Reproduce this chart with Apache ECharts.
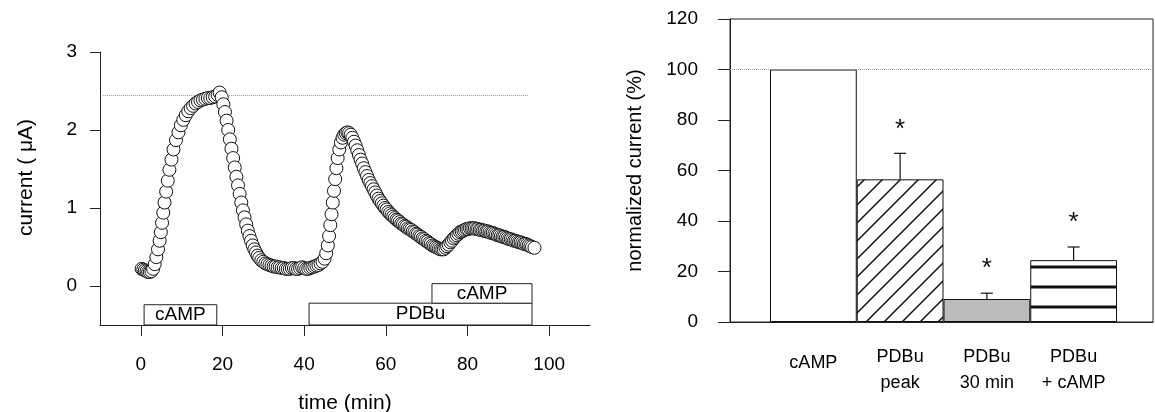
<!DOCTYPE html>
<html><head><meta charset="utf-8">
<script src="https://cdn.jsdelivr.net/npm/echarts@6/dist/echarts.min.js"></script>
<style>html,body{margin:0;padding:0;background:#fff}#c{width:1155px;height:412px}</style>
</head><body><div id="c"></div>
<script>
// ---------- Left panel: current trace ----------
const timeMin = [
  0.2, 0.6, 1.0, 1.4, 1.8, 2.2, 2.6, 3.0,
  3.4, 3.8, 4.2, 4.6, 4.9, 5.2, 5.5, 5.8, 6.2, 6.6, 7.0, 7.5, 8.0, 8.6, 9.2, 9.8, 10.4, 11.0, 11.6, 12.2, 12.8, 13.4, 14.0, 14.6, 15.2, 15.8, 16.4, 17.0, 17.6, 18.2, 18.8,
  19.3, 19.8, 20.2, 20.6, 21.0, 21.4, 21.8, 22.2, 22.6, 23.0, 23.4, 23.8, 24.2, 24.6, 25.0, 25.4, 25.8, 26.2, 26.6, 27.0, 27.4, 27.8, 28.2, 28.6, 29.0,
  29.5, 30.0, 30.5, 31.0, 31.5, 32.0, 32.5, 33.0, 33.5, 34.0, 34.5, 35.0, 35.5, 36.0, 36.5, 37.0, 37.5, 38.0, 38.5, 39.0, 39.5, 40.0, 40.5, 41.0, 41.5, 42.0, 42.5, 43.0, 43.5, 44.0,
  44.5, 45.0, 45.4, 45.8, 46.1, 46.4, 46.7, 47.0, 47.3, 47.6, 47.9, 48.2, 48.6, 49.0, 49.4, 49.8, 50.2, 50.6, 51.0,
  51.4, 51.8, 52.2, 52.6, 53.0, 53.4, 53.8, 54.2, 54.6, 55.0, 55.4, 55.8, 56.2, 56.6, 57.0, 57.4, 57.8, 58.2, 58.6, 59.0,
  59.4, 59.8, 60.2, 60.6, 61.0, 61.4, 61.8, 62.2, 62.6, 63.0, 63.4, 63.8, 64.2, 64.6, 65.0, 65.4, 65.8, 66.2, 66.6, 67.0,
  67.4, 67.8, 68.2, 68.6, 69.0, 69.4, 69.8, 70.2, 70.6, 71.0, 71.4, 71.8, 72.2, 72.6, 73.0, 73.4, 73.8,
  74.2, 74.6, 75.0, 75.4, 75.8, 76.2, 76.6, 77.0, 77.4, 77.8, 78.2, 78.6, 79.0, 79.4, 79.8, 80.2, 80.6, 81.0, 81.4, 81.8,
  82.2, 82.6, 83.0, 83.4, 83.8, 84.2, 84.6, 85.0, 85.4, 85.8, 86.2, 86.6, 87.0, 87.4, 87.8, 88.2, 88.6, 89.0, 89.4, 89.8,
  90.2, 90.6, 91.0, 91.4, 91.8, 92.2, 92.6, 93.0, 93.4, 93.8, 94.2, 94.6, 95.0, 95.4, 95.8, 96.4
];
const currentMicroA = [
  0.22, 0.21, 0.20, 0.19, 0.18, 0.18, 0.19, 0.22,
  0.28, 0.37, 0.47, 0.58, 0.69, 0.81, 0.94, 1.07, 1.21, 1.35, 1.49, 1.62, 1.75, 1.87, 1.97, 2.06, 2.13, 2.19, 2.24, 2.28, 2.31, 2.34, 2.36, 2.38, 2.39, 2.40, 2.41, 2.41, 2.42, 2.43, 2.45,
  2.48, 2.42, 2.33, 2.23, 2.12, 2.00, 1.88, 1.76, 1.64, 1.52, 1.40, 1.29, 1.18, 1.07, 0.97, 0.88, 0.79, 0.71, 0.64, 0.58, 0.52, 0.47, 0.43, 0.39, 0.36,
  0.33, 0.31, 0.29, 0.28, 0.27, 0.26, 0.25, 0.25, 0.24, 0.24, 0.23, 0.23, 0.22, 0.22, 0.22, 0.23, 0.23, 0.22, 0.22, 0.23, 0.24, 0.23, 0.22, 0.22, 0.23, 0.24, 0.25, 0.26, 0.27, 0.29,
  0.31, 0.35, 0.42, 0.52, 0.64, 0.78, 0.92, 1.07, 1.22, 1.37, 1.51, 1.64, 1.75, 1.84, 1.90, 1.94, 1.96, 1.97, 1.96,
  1.94, 1.90, 1.85, 1.80, 1.74, 1.68, 1.62, 1.57, 1.51, 1.46, 1.41, 1.36, 1.32, 1.28, 1.24, 1.20, 1.16, 1.12, 1.09, 1.06,
  1.03, 1.00, 0.98, 0.95, 0.93, 0.91, 0.89, 0.87, 0.85, 0.84, 0.82, 0.80, 0.79, 0.77, 0.76, 0.74, 0.73, 0.72, 0.70, 0.69,
  0.67, 0.66, 0.64, 0.63, 0.61, 0.60, 0.58, 0.57, 0.55, 0.54, 0.52, 0.51, 0.50, 0.49, 0.48, 0.47, 0.47,
  0.47, 0.49, 0.51, 0.53, 0.56, 0.58, 0.61, 0.63, 0.65, 0.67, 0.69, 0.70, 0.71, 0.72, 0.73, 0.73, 0.74, 0.74, 0.74, 0.74,
  0.73, 0.73, 0.72, 0.72, 0.71, 0.71, 0.70, 0.70, 0.69, 0.68, 0.68, 0.67, 0.66, 0.65, 0.65, 0.64, 0.63, 0.63, 0.62, 0.61,
  0.60, 0.60, 0.59, 0.58, 0.58, 0.57, 0.56, 0.56, 0.55, 0.54, 0.54, 0.53, 0.52, 0.51, 0.50, 0.49
];
const timeTicks = [0, 20, 40, 60, 80, 100];
const currentTicks = [0, 1, 2, 3];
const refCurrent = 2.45;
const refLineStart = -9.3;
const refLineEnd = 95;

const stimLabels = ['cAMP', 'PDBu', 'cAMP'];
const stimStart = [0.8, 41.2, 71.3];
const stimEnd = [18.6, 95.8, 95.8];
const stimBottom = [-0.5, -0.5, -0.22];
const stimTop = [-0.24, -0.22, 0.03];

// ---------- Right panel: bars ----------
const barCategories = ['cAMP', 'PDBu\npeak', 'PDBu\n30 min', 'PDBu\n+ cAMP'];
const barMeans = [100, 56.5, 9.1, 24.5];
const barErrors = [0, 10.3, 2.3, 5.2];
const barStars = ['', '*', '*', '*'];
const refPercent = 100;

const FONT = '"Liberation Sans", Arial, sans-serif';

function diagPattern() {
  const s = 18, c = document.createElement('canvas');
  c.width = s; c.height = s;
  const g = c.getContext('2d');
  g.fillStyle = '#fff'; g.fillRect(0, 0, s, s);
  g.strokeStyle = '#111'; g.lineWidth = 1.5;
  g.beginPath();
  g.moveTo(-2, s + 2); g.lineTo(s + 2, -2);
  g.moveTo(-2, 2); g.lineTo(2, -2);
  g.moveTo(s - 2, s + 2); g.lineTo(s + 2, s - 2);
  g.stroke();
  return c;
}
function horizPattern() {
  const c = document.createElement('canvas');
  c.width = 8; c.height = 20;
  const g = c.getContext('2d');
  g.fillStyle = '#fff'; g.fillRect(0, 0, 8, 20);
  g.fillStyle = '#111'; g.fillRect(0, 5.5, 8, 3);
  return c;
}
const barFills = [
  '#ffffff',
  { image: diagPattern(), repeat: 'repeat' },
  '#bcbcbc',
  { image: horizPattern(), repeat: 'repeat' }
];

const chart = echarts.init(document.getElementById('c'), null, { renderer: 'canvas' });

const scatterData = timeMin.map((t, i) => [t, currentMicroA[i]]);
const stimAreas = stimLabels.map((lab, i) => [
  { name: lab, xAxis: stimStart[i], yAxis: stimBottom[i] },
  { xAxis: stimEnd[i], yAxis: stimTop[i] }
]);

const axisColor = '#222';
const option = {
  animation: false,
  backgroundColor: '#fff',
  textStyle: { fontFamily: FONT },
  grid: [
    { left: 100, top: 52, width: 490, height: 273, outerBoundsMode: 'none', containLabel: false },
    { left: 730, top: 19, width: 423, height: 303, show: true, borderColor: axisColor, borderWidth: 1, backgroundColor: 'transparent', outerBoundsMode: 'none', containLabel: false },
    { left: 770, top: 19, width: 347, height: 303, outerBoundsMode: 'none', containLabel: false }
  ],
  xAxis: [
    {
      gridIndex: 0, type: 'value', min: -10, max: 110,
      name: 'time (min)', nameLocation: 'middle', nameGap: 68,
      nameTextStyle: { fontSize: 21, color: '#000', fontFamily: FONT },
      axisLine: { show: true, onZero: false, lineStyle: { color: axisColor, width: 1 } },
      axisTick: { show: true, length: 11, customValues: timeTicks, lineStyle: { color: axisColor } },
      axisLabel: { customValues: timeTicks, fontSize: 19, color: '#000', margin: 30, fontFamily: FONT },
      splitLine: { show: false }
    },
    {
      gridIndex: 1, type: 'value', min: 0, max: 1,
      axisLine: { show: true, onZero: false, lineStyle: { color: axisColor, width: 1 } },
      axisTick: { show: false }, axisLabel: { show: false }, splitLine: { show: false }
    },
    {
      gridIndex: 2, type: 'category', data: barCategories.map((c, i) => i === 0 ? { value: c, textStyle: { padding: [6, 0, 0, 0] } } : c),
      axisLine: { show: false }, axisTick: { show: false },
      axisLabel: { interval: 0, fontSize: 18, lineHeight: 26, margin: 22, color: '#000', fontFamily: FONT },
      splitLine: { show: false }
    }
  ],
  yAxis: [
    {
      gridIndex: 0, type: 'value', min: -0.5, max: 3,
      name: 'current ( \u03bcA)', nameLocation: 'middle', nameGap: 63, nameRotate: 90,
      nameTextStyle: { fontSize: 21, color: '#000', fontFamily: FONT, padding: [0, 0, 0, 22] },
      axisLine: { show: true, onZero: false, lineStyle: { color: axisColor, width: 1 } },
      axisTick: { show: true, length: 10, customValues: currentTicks, lineStyle: { color: axisColor } },
      axisLabel: { customValues: currentTicks, fontSize: 19, color: '#000', margin: 23, fontFamily: FONT },
      splitLine: { show: false }
    },
    {
      gridIndex: 1, type: 'value', min: 0, max: 120, interval: 20,
      name: 'normalized current (%)', nameLocation: 'middle', nameGap: 85, nameRotate: 90,
      nameTextStyle: { fontSize: 20, color: '#000', fontFamily: FONT },
      axisLine: { show: true, lineStyle: { color: axisColor, width: 1 } },
      axisTick: { show: true, length: 12, lineStyle: { color: axisColor } },
      axisLabel: { fontSize: 19, color: '#000', margin: 32, fontFamily: FONT },
      splitLine: { show: false }
    },
    { gridIndex: 2, type: 'value', min: 0, max: 120, show: false }
  ],
  series: [
    {
      type: 'scatter', xAxisIndex: 0, yAxisIndex: 0,
      data: scatterData,
      symbol: 'circle', symbolSize: 13,
      itemStyle: { color: '#fff', borderColor: '#111', borderWidth: 1, opacity: 1 },
      z: 5,
      markLine: {
        silent: true, symbol: 'none',
        lineStyle: { type: 'dotted', color: '#999', width: 1 },
        label: { show: false },
        data: [[{ coord: [refLineStart, refCurrent] }, { coord: [refLineEnd, refCurrent] }]]
      },
      markArea: {
        silent: true,
        itemStyle: { color: '#fff', borderColor: axisColor, borderWidth: 1 },
        label: { show: true, position: 'inside', color: '#000', fontSize: 19, fontFamily: FONT },
        data: stimAreas
      }
    },
    {
      type: 'line', xAxisIndex: 1, yAxisIndex: 1, data: [],
      markLine: {
        silent: true, symbol: 'none',
        lineStyle: { type: 'dotted', color: '#999', width: 1 },
        label: { show: false },
        data: [{ yAxis: refPercent }]
      }
    },
    {
      type: 'bar', xAxisIndex: 2, yAxisIndex: 2,
      barWidth: '100%', barCategoryGap: '0%',
      data: barMeans.map((v, i) => ({ value: v, itemStyle: { color: barFills[i], borderColor: '#111', borderWidth: 1 } })),
      z: 3
    },
    {
      type: 'custom', xAxisIndex: 2, yAxisIndex: 2, z: 6,
      data: barMeans.map((v, i) => [i, v, barErrors[i]]),
      renderItem: function (params, api) {
        const idx = api.value(0), m = api.value(1), e = api.value(2);
        if (!e) return null;
        const base = api.coord([idx, m]);
        const top = api.coord([idx, m + e]);
        return {
          type: 'group', children: [
            { type: 'line', shape: { x1: base[0], y1: base[1], x2: top[0], y2: top[1] }, style: { stroke: '#111', lineWidth: 1.2 } },
            { type: 'line', shape: { x1: top[0] - 6, y1: top[1], x2: top[0] + 6, y2: top[1] }, style: { stroke: '#111', lineWidth: 1.2 } },
            { type: 'text', x: top[0], y: top[1] - 24, style: { text: barStars[params.dataIndex], font: '26px ' + FONT, fill: '#111', align: 'center', verticalAlign: 'middle' } }
          ]
        };
      }
    }
  ]
};
chart.setOption(option);
</script></body></html>
